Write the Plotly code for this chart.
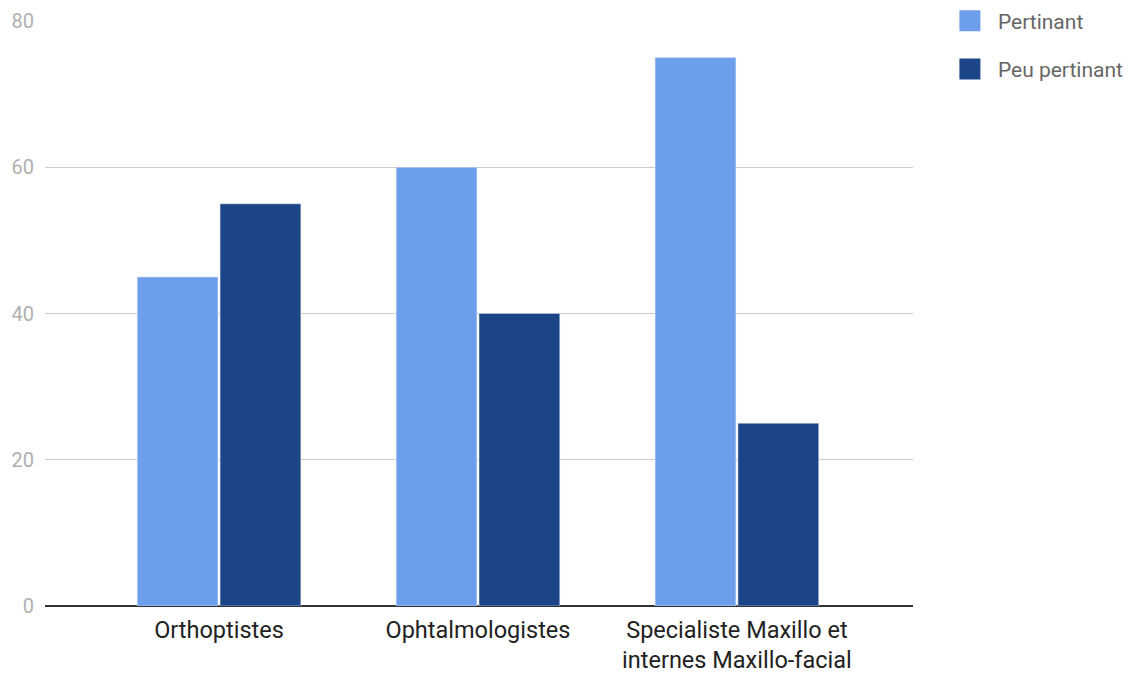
import plotly.graph_objects as go

categories = ["Orthoptistes", "Ophtalmologistes", "Specialiste Maxillo et<br>internes Maxillo-facial"]
pertinant = [45, 60, 75]
peu_pertinant = [55, 40, 25]
y_ticks = [0, 20, 40, 60, 80]

series = [("Pertinant", pertinant, "#6d9eeb"), ("Peu pertinant", peu_pertinant, "#1c4587")]

fig = go.Figure()
for name, vals, col in series:
    fig.add_trace(go.Bar(x=categories, y=vals, name=name, marker_color=col,
                         legendgroup=name, showlegend=False))
# legend entries with larger square symbols
for name, vals, col in series:
    fig.add_trace(go.Scatter(x=[None], y=[None], mode="markers", name=name,
                             legendgroup=name,
                             marker=dict(symbol="square", size=16, color=col,
                                         line=dict(color=col, width=5))))

fig.update_layout(
    width=1134, height=667,
    margin=dict(l=37, r=229, t=13, b=69, autoexpand=False),
    paper_bgcolor="white", plot_bgcolor="white",
    barmode="group", bargap=0.36, bargroupgap=0.025,
    font=dict(family="Roboto", size=18, color="#222"),
    legend=dict(x=1.0333, y=1.035, xanchor="left", yanchor="top",
                font=dict(size=21, color="#666"), tracegroupgap=18,
                itemsizing="trace", itemwidth=46),
    xaxis=dict(range=[-0.672, 2.68], showgrid=False, ticks="", showline=False,
               tickfont=dict(size=23.5, color="#222"), ticklabelstandoff=7,
               automargin=False),
    yaxis=dict(range=[0, 80], tickvals=y_ticks, showgrid=True, gridcolor="#cccccc",
               zeroline=True, zerolinecolor="#333333", zerolinewidth=2,
               tickfont=dict(size=20, color="#b0b0b0"), ticks="", ticklabelstandoff=10,
               automargin=False),
)
fig.write_html("out.html")
